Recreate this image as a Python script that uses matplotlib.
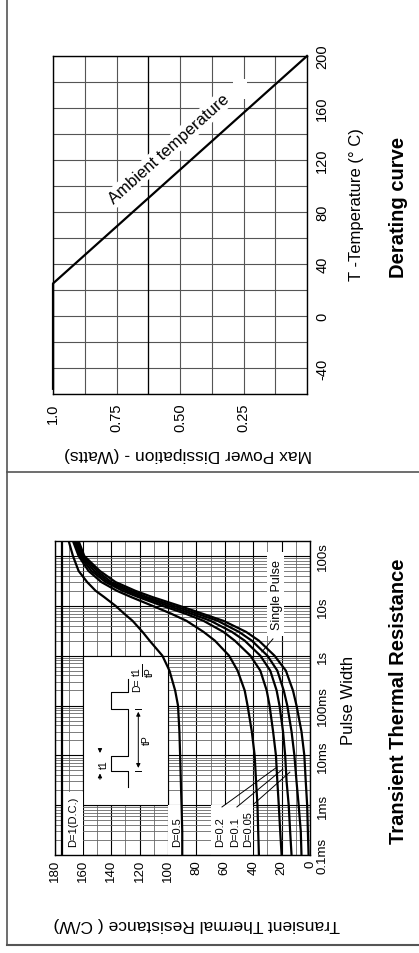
import numpy as np
import matplotlib
matplotlib.use("Agg")
import matplotlib.pyplot as plt
from matplotlib.patches import Rectangle
from matplotlib.lines import Line2D
from matplotlib.ticker import FixedLocator, MultipleLocator, LogLocator, NullFormatter

plt.rcParams['font.family'] = ['Liberation Sans', 'DejaVu Sans']
plt.rcParams['axes.unicode_minus'] = False

# ---- derating curve data ----
temp_pts = [-56, 25, 200]
power_pts = [1.0, 1.0, 0.0]
temp_ticks = [-40, 0, 40, 80, 120, 160, 200]
power_ticks = [1.0, 0.75, 0.50, 0.25]
power_labels = ['1.0', '0.75', '0.50', '0.25']

# ---- transient thermal resistance data (pulse width in s, R in C/W) ----
pulse_t = [1e-4, 3e-4, 1e-3, 3e-3, 1e-2, 3e-2, 0.1, 0.2, 0.5, 1, 2, 3, 5, 7, 10, 15, 20, 30, 50, 100, 200]
r_d05 = [90, 90, 90.5, 91, 91.5, 92, 93, 95, 99, 104, 113, 118, 125, 131, 137, 145, 151, 157, 163, 167, 170]
r_d02 = [36, 36.5, 37, 38, 39, 41, 44, 46, 51, 57, 67, 75, 87, 98, 111, 126, 136, 147, 156, 163, 167]
r_d01 = [20, 21, 22, 23, 24, 26, 28.5, 30.5, 35, 42, 53, 61, 75, 88, 104, 121, 132, 144, 154, 162, 166]
r_d005 = [13, 14, 15, 16.5, 17.5, 19, 21.5, 23.5, 28, 35, 46, 55, 70, 84, 100, 118, 129, 142, 152, 161, 165]
r_d002 = [6, 6.5, 8, 9.5, 11, 13, 16, 18.5, 23, 30, 41, 50, 65, 80, 96, 115, 126, 140, 150, 160, 164]
r_single = [1, 1.5, 2, 3, 4, 6, 9.5, 12, 17, 25, 36, 45, 61, 76, 92, 111, 123, 137, 148, 159, 163]
r_dc = 175
t_ticks = [1e-4, 1e-3, 1e-2, 1e-1, 1, 10, 100]
t_labels = ['0.1ms', '1ms', '10ms', '100ms', '1s', '10s', '100s']
r_ticks = list(range(0, 181, 20))

W, H = 419, 954
fig = plt.figure(figsize=(W / 100, H / 100), dpi=100)


def fx(x):
    return x / W


def fy(y):
    return 1 - y / H


def box(x0, y0, x1, y1):
    return [fx(x0), fy(y1), (x1 - x0) / W, (y1 - y0) / H]


# outer frame lines
fig.add_artist(Line2D([fx(7), fx(7)], [fy(0), fy(946)], color='#555555', lw=1.2))
fig.add_artist(Line2D([fx(7), 1], [fy(946), fy(946)], color='#555555', lw=1.5))
fig.add_artist(Line2D([fx(7), 1], [fy(473), fy(473)], color='#555555', lw=1.2))

# ================= Derating curve =================
ax1 = fig.add_axes(box(53, 57, 307, 395))
ax1.set_xlim(1.0, 0.0)
ax1.set_ylim(-60, 200)
ax1.xaxis.set_major_locator(FixedLocator(power_ticks))
ax1.set_xticklabels(power_labels)
ax1.xaxis.set_minor_locator(MultipleLocator(0.125))
ax1.yaxis.set_major_locator(FixedLocator(temp_ticks))
ax1.yaxis.set_minor_locator(MultipleLocator(20))
ax1.yaxis.tick_right()
ax1.grid(which='both', color='#555555', lw=0.8)
ax1.axvline(0.625, color='black', lw=0.9, zorder=0.6)
ax1.set_axisbelow(True)
ax1.tick_params(which='both', length=0)
ax1.tick_params(axis='x', labelrotation=90, labelsize=10.5, pad=6)
ax1.tick_params(axis='y', labelrotation=90, labelsize=10.5, pad=6)
for lab in ax1.get_yticklabels():
    lab.set_va('center')
for s in ax1.spines.values():
    s.set_linewidth(1.0)

# small erased patch of the grid near the top
ax1.add_patch(Rectangle((0.236, 167), 0.055, 15, fc='white', ec='none', zorder=1))

ax1.plot(power_pts, temp_pts, color='black', lw=1.6, clip_on=False, zorder=3)

p1 = ax1.transData.transform((power_pts[1], temp_pts[1]))
p2 = ax1.transData.transform((power_pts[2], temp_pts[2]))
ang = np.degrees(np.arctan2(p2[1] - p1[1], p2[0] - p1[0]))
ax1.text(0.533, 126, 'Ambient temperature', rotation=ang, rotation_mode='anchor',
         ha='center', va='baseline', fontsize=12,
         bbox=dict(fc='white', ec='none', pad=1.5), zorder=2)

fig.text(fx(356), fy(205), 'T -Temperature (° C)', rotation=90, ha='center', va='center', fontsize=12)
fig.text(fx(398), fy(207), 'Derating curve', rotation=90, ha='center', va='center',
         fontsize=14.5, fontweight='bold')
fig.text(fx(188), fy(455), 'Max Power Dissipation - (Watts)', rotation=180, ha='center', va='center',
         fontsize=12.5)

# ================= Transient thermal resistance =================
ax2 = fig.add_axes(box(54.5, 542, 310, 856))
ax2.set_yscale('log')
ax2.set_ylim(1e-4, 200)
ax2.set_xlim(180, 0)
ax2.yaxis.set_major_locator(FixedLocator(t_ticks))
ax2.set_yticklabels(t_labels)
ax2.yaxis.set_minor_locator(LogLocator(base=10, subs=np.arange(2, 10), numticks=30))
ax2.yaxis.set_minor_formatter(NullFormatter())
ax2.xaxis.set_major_locator(FixedLocator(r_ticks))
ax2.xaxis.set_minor_locator(MultipleLocator(10))
ax2.yaxis.tick_right()
ax2.grid(which='major', color='black', lw=0.8)
ax2.grid(which='minor', color='#666666', lw=0.6)
ax2.set_axisbelow(True)
ax2.tick_params(which='both', length=0)
ax2.tick_params(axis='x', labelrotation=90, labelsize=9.5, pad=3)
ax2.tick_params(axis='y', labelrotation=90, labelsize=9.5, pad=5)
for lab in ax2.get_yticklabels():
    lab.set_va('center')
for s in ax2.spines.values():
    s.set_linewidth(1.0)

# white label areas
white = dict(fc='white', ec='none', zorder=1)
ax2.add_patch(Rectangle((100, 1e-3), 60, 1 - 1e-3, fc='white', ec='black', lw=0.8, zorder=1))
ax2.add_patch(Rectangle((160, 1e-4), 14, 1.85e-3 - 1e-4, **white))
ax2.add_patch(Rectangle((91, 1e-4), 9, 1e-3 - 1e-4, **white))
ax2.add_patch(Rectangle((40, 1e-4), 30, 1e-3 - 1e-4, **white))
ax2.add_patch(Rectangle((18, 2.5), 12, 120 - 2.5, **white))

ax2.axvline(r_dc, color='black', lw=1.6, zorder=3)
for r in [r_d05, r_d02, r_d01, r_d005, r_d002, r_single]:
    ax2.plot(r, pulse_t, color='black', lw=1.6, zorder=3)

lbl = dict(rotation=90, rotation_mode='anchor', ha='left', va='center', fontsize=8, zorder=4)
ax2.text(167, 1.5e-4, 'D=1(D.C.)', **lbl)
ax2.text(93.7, 1.5e-4, 'D=0.5', **lbl)
ax2.text(63.4, 1.5e-4, 'D=0.2', **lbl)
ax2.text(52.9, 1.5e-4, 'D=0.1', **lbl)
ax2.text(43.7, 1.5e-4, 'D=0.05', **lbl)
ax2.plot([62, 23.3], [0.92e-3, 5.8e-3], color='black', lw=0.7, zorder=4)
ax2.plot([51.5, 19.1], [0.92e-3, 5.3e-3], color='black', lw=0.7, zorder=4)
ax2.plot([39.5, 14.2], [1.06e-3, 4.6e-3], color='black', lw=0.7, zorder=4)
ax2.text(23.3, 17.4, 'Single Pulse', rotation=90, ha='center', va='center', fontsize=9, zorder=4)
ax2.plot([26.1, 33.9], [2.17, 1.19], color='black', lw=0.7, zorder=4)

# pulse diagram inside the inset (axes fraction coords)
ta = ax2.transAxes
wave_x = [0.289, 0.289, 0.220, 0.220, 0.289, 0.289, 0.220, 0.220, 0.289, 0.289]
wave_y = [0.216, 0.2685, 0.2685, 0.316, 0.316, 0.465, 0.465, 0.518, 0.518, 0.561]
ax2.plot(wave_x, wave_y, color='black', lw=0.8, transform=ta, zorder=4)
arw = dict(arrowstyle='-|>', color='black', lw=0.7, mutation_scale=6)
ax2.annotate('', xy=(0.178, 0.2685), xytext=(0.178, 0.232), xycoords=ta, textcoords=ta, arrowprops=arw)
ax2.annotate('', xy=(0.178, 0.316), xytext=(0.178, 0.347), xycoords=ta, textcoords=ta, arrowprops=arw)
ax2.text(0.192, 0.292, 't1', rotation=90, ha='center', va='center', fontsize=7.5, transform=ta)
ax2.annotate('', xy=(0.328, 0.465), xytext=(0.328, 0.2685), xycoords=ta, textcoords=ta,
             arrowprops=dict(arrowstyle='<|-|>', color='black', lw=0.7, mutation_scale=6))
ax2.plot([0.316, 0.340], [0.465, 0.465], color='black', lw=0.7, transform=ta)
ax2.plot([0.316, 0.340], [0.2685, 0.2685], color='black', lw=0.7, transform=ta)
ax2.text(0.361, 0.369, 'tP', rotation=90, ha='center', va='center', fontsize=7.5, transform=ta)
ax2.text(0.323, 0.545, 'D=', rotation=90, ha='center', va='center', fontsize=7.5, transform=ta)
ax2.text(0.323, 0.588, 't1', rotation=90, ha='center', va='center', fontsize=7.5, transform=ta)
ax2.plot([0.344, 0.344], [0.570, 0.608], color='black', lw=0.7, transform=ta)
ax2.text(0.372, 0.586, 'tP', rotation=90, ha='center', va='center', fontsize=7.5, transform=ta)

fig.text(fx(348), fy(700), 'Pulse Width', rotation=90, ha='center', va='center', fontsize=12)
fig.text(fx(398), fy(701), 'Transient Thermal Resistance', rotation=90, ha='center', va='center',
         fontsize=14.5, fontweight='bold')
fig.text(fx(197), fy(925), 'Transient Thermal Resistance ( C/W)', rotation=180, ha='center', va='center',
         fontsize=12.5)

fig.savefig('out.png', dpi=100)
